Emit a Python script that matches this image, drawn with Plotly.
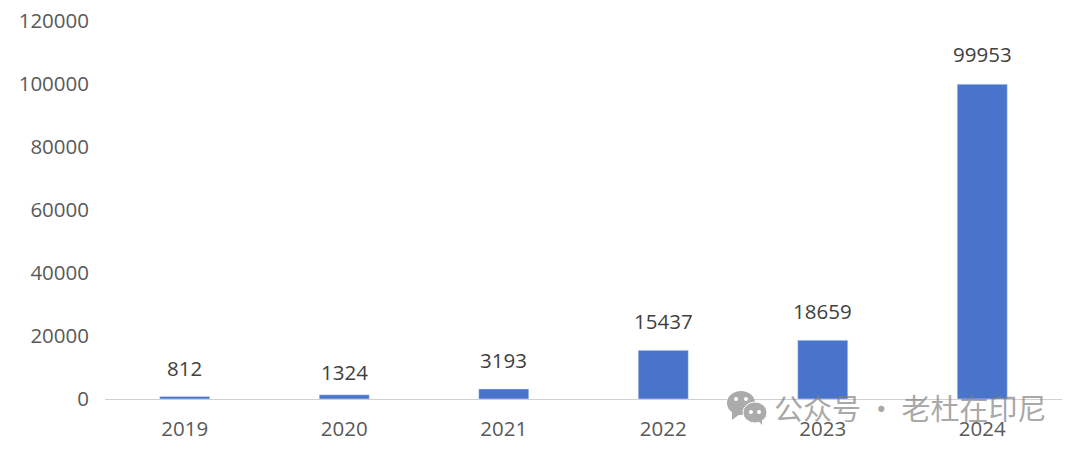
import plotly.graph_objects as go

years = ["2019", "2020", "2021", "2022", "2023", "2024"]
values = [812, 1324, 3193, 15437, 18659, 99953]
y_ticks = [0, 20000, 40000, 60000, 80000, 100000, 120000]
# the labels in the picture are not all the same distance above their bars
label_shifts = [28, 23, 29, 29, 29, 30]

font_name = "Open Sans, Noto Sans CJK SC, sans-serif"

fig_w, fig_h = 1080, 450
m_l, m_r, m_t, m_b = 105, 18, 21, 51
plot_w = fig_w - m_l - m_r
plot_h = fig_h - m_t - m_b


def px(x):
    return (x - m_l) / plot_w


def py(y):
    return 1 - (y - m_t) / plot_h


def bubble(x0, y0, x1, y1, color, **kw):
    return dict(type="circle", xref="paper", yref="paper", x0=px(x0), x1=px(x1), y0=py(y0), y1=py(y1),
                fillcolor=color, layer="above", **kw)


def tail(points, color):
    path = "M " + " L ".join(f"{px(a)},{py(b)}" for a, b in points) + " Z"
    return dict(type="path", xref="paper", yref="paper", path=path, fillcolor=color,
                line_width=0, layer="above")


fig = go.Figure()
fig.add_trace(go.Bar(x=years, y=values, width=0.314, marker_color="#4874cb"))

# numeric-looking strings count as indices in annotations, so use the index here
for i, value in enumerate(values):
    fig.add_annotation(x=i, y=value, text=str(value), showarrow=False, yshift=label_shifts[i],
                       font=dict(size=20.5, color="#404040", family=font_name))

# watermark
grey = "#ababab"
shapes = [
    bubble(727, 391, 755, 415, grey, line_width=0),
    tail([(732, 411), (732, 420), (740, 414)], grey),
    bubble(743, 402, 767, 423, grey, line=dict(color="white", width=1)),
    tail([(757, 419), (762, 425), (762, 417)], grey),
    bubble(734, 397, 738, 401, "white", line_width=0),
    bubble(744, 397, 748, 401, "white", line_width=0),
    bubble(749, 410, 753, 414, "white", line_width=0),
    bubble(757, 410, 761, 414, "white", line_width=0),
]
fig.add_annotation(text="公众号\u2009·\u2009老杜在印尼", xref="paper", yref="paper", x=px(1049), y=py(407),
                   xanchor="right", yanchor="middle", showarrow=False,
                   font=dict(size=29, color="rgba(125,125,125,0.68)", family="Noto Sans CJK SC"))

fig.update_layout(
    width=fig_w, height=fig_h,
    margin=dict(l=m_l, r=m_r, t=m_t, b=m_b, pad=0, autoexpand=False),
    paper_bgcolor="white", plot_bgcolor="white",
    showlegend=False, shapes=shapes,
    font=dict(family=font_name, size=20.5, color="#595959"),
)
fig.update_xaxes(type="category", range=[-0.5, 5.5], showgrid=False, showline=True, linecolor="#d0d0d0",
                 ticks="", ticklabelstandoff=11, tickfont=dict(size=20.5, color="#595959"))
fig.update_yaxes(range=[0, 120000], tickvals=y_ticks, tickformat="d", showgrid=False, zeroline=False,
                 ticks="", ticklabelstandoff=15, tickfont=dict(size=20.5, color="#595959"))

# drop the page's default 8px margin so the figure fills the window
fig.write_html("out.html", config={"displayModeBar": False},
               post_script="document.body.style.margin = '0';")
